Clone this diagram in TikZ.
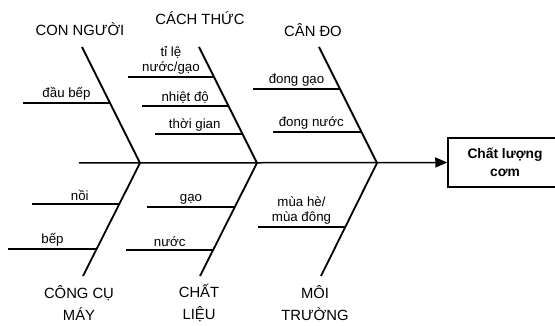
\documentclass[tikz,border=0pt]{standalone}
\usepackage{fontspec}
\setmainfont{Liberation Sans}
\usetikzlibrary{arrows.meta,calc,positioning}
\tikzset{
  cause/.style={font=\fontsize{14.8}{22}\selectfont,align=center,inner sep=0pt},
  sub/.style={font=\fontsize{13.3}{15}\selectfont,align=center,inner sep=2pt},
  effect/.style={draw,rectangle,line width=1.5pt,minimum width=114pt,minimum height=49pt,
    align=center,font=\fontsize{13.8}{18}\selectfont\bfseries},
  bone/.style={line width=1.8pt}
}

\begin{document}
\begin{tikzpicture}[x=1pt,y=-1pt,>=Stealth]
  \useasboundingbox (0,0) rectangle (555,326);
  \clip (0,0) rectangle (555,326);
  % bone ends and joints on the spine
  \coordinate (t1) at (82,47);
  \coordinate (t2) at (199,47);
  \coordinate (t3) at (319,47);
  \coordinate (j1) at (140,163);
  \coordinate (j2) at (257,163);
  \coordinate (j3) at (377,163);
  \coordinate (b1) at (83,276);
  \coordinate (b2) at (200,276);
  \coordinate (b3) at (321,276);
  \coordinate (tail) at (79,163);
  \node[effect] (rice) at (505,162.5) {Chất lượng\\cơm};
  % spine and bones
  \draw[line width=1.5pt,-{Triangle[length=12pt,width=10pt]}] (tail) -- (rice.west);
  \draw[bone] (t1) -- (j1) -- (b1);
  \draw[bone] (t2) -- (j2) -- (b2);
  \draw[bone] (t3) -- (j3) -- (b3);
  % cause headings
  \node[cause] (people) at (80,29) {CON NGƯỜI};
  \node[cause] (method) at (200,18) {CÁCH THỨC};
  \node[cause] (measure) at (313,30) {CÂN ĐO};
  \node[cause] (tools) at (79,303) {CÔNG CỤ\\MÁY};
  \node[cause] (material) at (199,303) {CHẤT\\LIỆU};
  \node[cause] (environ) at (315,303) {MÔI\\TRƯỜNG};
  % ribs with their labels
  \draw[bone] (23,103) -- node[sub,above] (cook) {đầu bếp} (110,103);
  \draw[bone] (128,77) -- node[sub,above] (ratio) {tỉ lệ\\nước/gạo} (214,77);
  \draw[bone] (142,106) -- node[sub,above] (heat) {nhiệt độ} (228.5,106);
  \draw[bone] (155,134) -- node[sub,above,xshift=-4pt] (time) {thời gian} (242.5,134);
  \draw[bone] (253,89) -- node[sub,above] (rmeas) {đong gạo} (340,89);
  \draw[bone] (273,132) -- node[sub,above,xshift=-6pt] (wmeas) {đong nước} (361.5,132);
  \draw[bone] (32,204) -- node[sub,above,xshift=4pt] (pot) {nồi} (119.5,204);
  \draw[bone] (8,249) -- node[sub,above] (stove) {bếp} (97,249);
  \draw[bone] (147,207) -- node[sub,above] (grain) {gạo} (235,207);
  \draw[bone] (126,250) -- node[sub,above] (water) {nước} (213.5,250);
  \draw[bone] (258,227) -- node[sub,above] (season) {mùa hè/\\mùa đông} (345,227);
\end{tikzpicture}
\end{document}
